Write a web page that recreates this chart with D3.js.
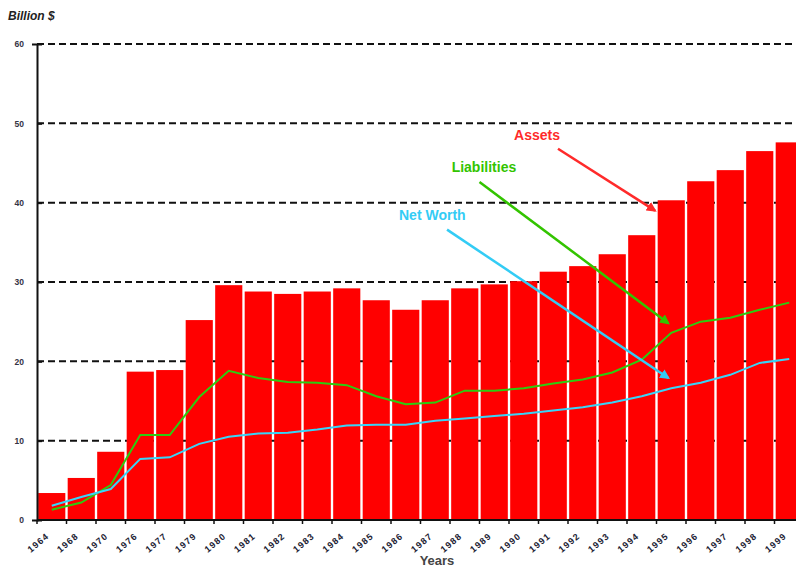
<!DOCTYPE html>
<html><head><meta charset="utf-8">
<script src="https://cdn.jsdelivr.net/npm/d3@7/dist/d3.min.js"></script>
<style>body{margin:0;background:#fff;overflow:hidden}svg{display:block}</style>
</head><body>
<svg id="c" width="796" height="568"></svg>
<script>
const years = ["1964","1968","1970","1976","1977","1979","1980","1981","1982","1983","1984","1985","1986","1987","1988","1989","1990","1991","1992","1993","1994","1995","1996","1997","1998","1999"];
const assets = [3.4,5.3,8.6,18.7,18.9,25.2,29.6,28.8,28.5,28.8,29.2,27.7,26.5,27.7,29.2,29.7,30.1,31.3,32.0,33.5,35.9,40.3,42.7,44.1,46.5,47.6];
const liabilities = [1.3,2.2,4.4,10.7,10.7,15.5,18.8,17.9,17.4,17.3,17.0,15.6,14.6,14.8,16.3,16.3,16.6,17.2,17.7,18.6,20.2,23.6,25.0,25.5,26.5,27.4];
const netWorth = [1.8,2.9,3.9,7.7,7.9,9.6,10.5,10.9,11.0,11.4,11.9,12.0,12.0,12.5,12.8,13.1,13.4,13.8,14.2,14.8,15.6,16.6,17.3,18.3,19.8,20.3];
const yTicks = [0,10,20,30,40,50,60];
// annotations: position in band units (i) and value (v)
const notes = [
  {text:"Assets", color:"#ff2a2a", ti:16.95, tv:47.9, si:17.66, sv:46.8, ei:20.95, ev:39.0},
  {text:"Liabilities", color:"#33c400", ti:15.15, tv:43.9, si:15.0, sv:42.6, ei:21.4, ev:24.8},
  {text:"Net Worth", color:"#33ccf5", ti:13.4, tv:37.8, si:13.9, sv:36.6, ei:21.4, ev:17.9}
];

const svg = d3.select("#c");
const x = d3.scaleBand().domain(years).range([37, 804]).paddingInner(0.08).paddingOuter(0.04);
const y = d3.scaleLinear().domain([0, 60]).range([520, 44]);
const step = x.step();
const xi = i => 37 + i * step;

// gridlines
svg.append("g").selectAll("line").data(yTicks.filter(d => d > 0)).join("line")
  .attr("x1", 37).attr("x2", 796).attr("y1", d => y(d)).attr("y2", d => y(d))
  .attr("stroke", "#111").attr("stroke-width", 2).attr("stroke-dasharray", "7,4");

// bars
svg.append("g").selectAll("rect").data(years).join("rect")
  .attr("x", d => x(d)).attr("width", x.bandwidth())
  .attr("y", (d, i) => y(assets[i])).attr("height", (d, i) => y(0) - y(assets[i]))
  .attr("fill", "#ff0000");

// lines
const line = d3.line().x((d, i) => x(years[i]) + x.bandwidth() / 2).y(d => y(d));
svg.append("path").datum(liabilities).attr("d", line).attr("fill", "none")
  .attr("stroke", "#2ccc10").attr("stroke-width", 2);
svg.append("path").datum(netWorth).attr("d", line).attr("fill", "none")
  .attr("stroke", "#38d4f8").attr("stroke-width", 2);

// axes
const ya = svg.append("g").attr("transform", "translate(37,0)")
  .call(d3.axisLeft(y).tickValues(yTicks).tickSize(5).tickPadding(8));
ya.select(".domain").attr("stroke", "#111").attr("stroke-width", 2);
ya.selectAll(".tick line").attr("stroke", "#111").attr("stroke-width", 2).attr("x2", 5);
ya.selectAll("text").attr("font-family", "Liberation Sans, Arial, sans-serif")
  .attr("font-size", 8.5).attr("font-weight", "bold").attr("fill", "#334");

const xa = svg.append("g").attr("transform", "translate(0,520)");
xa.append("line").attr("x1", 37).attr("x2", 796).attr("stroke", "#111").attr("stroke-width", 2);
xa.selectAll(".tk").data(years).join("line").attr("class", "tk")
  .attr("x1", d => x(d) - x.step() * x.paddingInner() / 2).attr("x2", d => x(d) - x.step() * x.paddingInner() / 2)
  .attr("y1", 0).attr("y2", 4).attr("stroke", "#111").attr("stroke-width", 1.5);
xa.selectAll(".lb").data(years).join("text").attr("class", "lb")
  .attr("transform", d => `translate(${x(d) + 2},25) rotate(-40)`)
  .attr("text-anchor", "middle")
  .attr("font-family", "Liberation Sans, Arial, sans-serif").attr("font-size", 9).attr("font-weight", "bold")
  .attr("letter-spacing", 1.2).attr("fill", "#223").text(d => d);

// titles
svg.append("text").attr("x", 8).attr("y", 20).text("Billion $")
  .attr("font-family", "Liberation Sans, Arial, sans-serif").attr("font-size", 12)
  .attr("font-weight", "bold").attr("font-style", "italic").attr("fill", "#222");
svg.append("text").attr("x", 437).attr("y", 565).attr("text-anchor", "middle").text("Years")
  .attr("font-family", "Liberation Sans, Arial, sans-serif").attr("font-size", 13)
  .attr("font-weight", "bold").attr("fill", "#444");

// annotations
const defs = svg.append("defs");
notes.forEach((n, k) => {
  defs.append("marker").attr("id", "m" + k).attr("viewBox", "0 0 10 10").attr("refX", 8).attr("refY", 5)
    .attr("markerWidth", 4).attr("markerHeight", 4).attr("orient", "auto")
    .append("path").attr("d", "M0,0L10,5L0,10z").attr("fill", n.color);
  svg.append("line").attr("x1", xi(n.si)).attr("y1", y(n.sv)).attr("x2", xi(n.ei)).attr("y2", y(n.ev))
    .attr("stroke", n.color).attr("stroke-width", 2.5).attr("marker-end", `url(#m${k})`);
  svg.append("text").attr("x", xi(n.ti)).attr("y", y(n.tv)).attr("text-anchor", "middle").text(n.text)
    .attr("font-family", "Liberation Sans, Arial, sans-serif").attr("font-size", 14)
    .attr("font-weight", "bold").attr("fill", n.color);
});
</script>
</body></html>
